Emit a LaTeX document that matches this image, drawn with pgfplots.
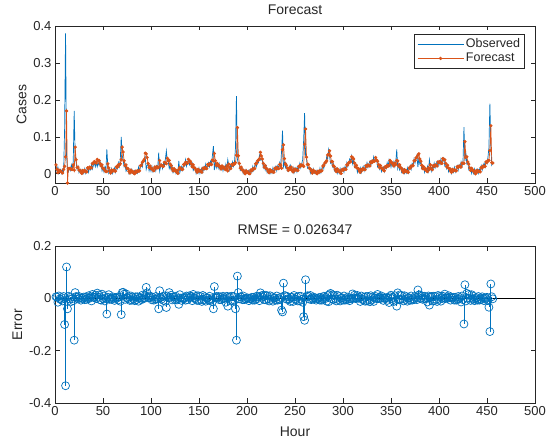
\documentclass[border=0pt]{standalone}
\usepackage{fontspec}
\setmainfont{Liberation Sans}
\usepackage{pgfplots}
\usepackage{pgfplotstable}
\pgfplotsset{compat=1.18}

\definecolor{mblue}{rgb}{0,0.447,0.741}
\definecolor{morange}{rgb}{0.85,0.325,0.098}
\definecolor{axgray}{rgb}{0.15,0.15,0.15}

% hourly observed (o) and forecast (f) values, hour = row index + 1
\pgfplotstableread[row sep=\\]{
o f \\
0.018 0.024 \\ 0.007 0.012 \\ 0.018 0.003 \\ 0.001 0.010 \\ 0.008 0.006 \\ 0.012 0.007 \\
0.001 0.004 \\ 0.012 0.002 \\ 0.005 0.012 \\ 0.120 0.020 \\ 0.380 0.046 \\ 0.050 0.170 \\
0.015 -0.025 \\ 0.006 0.014 \\ 0.016 0.014 \\ 0.009 0.014 \\ 0.024 0.012 \\ 0.013 0.012 \\
0.033 0.024 \\ 0.170 0.010 \\ 0.050 0.072 \\ 0.031 0.038 \\ 0.012 0.017 \\ 0.020 0.018 \\
0.003 0.010 \\ 0.009 0.010 \\ 0.012 0.005 \\ 0.001 0.001 \\ 0.009 0.009 \\ 0.001 0.006 \\
0.014 0.009 \\ 0.001 0.006 \\ 0.009 0.005 \\ 0.016 0.016 \\ 0.004 0.014 \\ 0.018 0.018 \\
0.011 0.016 \\ 0.026 0.016 \\ 0.013 0.028 \\ 0.023 0.028 \\ 0.030 0.033 \\ 0.019 0.031 \\
0.030 0.029 \\ 0.019 0.039 \\ 0.030 0.035 \\ 0.023 0.036 \\ 0.033 0.028 \\ 0.028 0.021 \\
0.008 0.024 \\ 0.016 0.015 \\ 0.005 0.014 \\ 0.018 0.008 \\ 0.007 0.006 \\ 0.066 0.006 \\
0.023 0.027 \\ 0.002 0.016 \\ 0.011 0.007 \\ 0.001 0.002 \\ 0.014 0.010 \\ 0.001 0.007 \\
0.009 0.010 \\ 0.016 0.008 \\ 0.004 0.007 \\ 0.019 0.019 \\ 0.013 0.018 \\ 0.030 0.024 \\
0.019 0.024 \\ 0.038 0.027 \\ 0.100 0.038 \\ 0.050 0.072 \\ 0.036 0.059 \\ 0.019 0.035 \\
0.026 0.022 \\ 0.007 0.024 \\ 0.012 0.015 \\ 0.015 0.014 \\ 0.001 0.007 \\ 0.010 0.002 \\
0.001 0.010 \\ 0.012 0.005 \\ 0.001 0.006 \\ 0.004 0.002 \\ 0.009 0.000 \\ 0.001 0.007 \\
0.009 0.004 \\ 0.002 0.008 \\ 0.018 0.007 \\ 0.007 0.008 \\ 0.019 0.022 \\ 0.028 0.023 \\
0.019 0.031 \\ 0.036 0.034 \\ 0.037 0.039 \\ 0.045 0.056 \\ 0.012 0.054 \\ 0.023 0.044 \\
0.026 0.028 \\ 0.008 0.017 \\ 0.018 0.021 \\ 0.007 0.014 \\ 0.020 0.014 \\ 0.006 0.010 \\
0.015 0.008 \\ 0.021 0.018 \\ 0.008 0.015 \\ 0.022 0.019 \\ 0.017 0.016 \\ 0.057 0.017 \\
0.007 0.036 \\ 0.019 0.022 \\ 0.026 0.023 \\ 0.014 0.021 \\ 0.028 0.020 \\ 0.022 0.031 \\
0.040 0.029 \\ 0.062 0.027 \\ 0.033 0.042 \\ 0.033 0.035 \\ 0.014 0.036 \\ 0.022 0.026 \\
0.010 0.022 \\ 0.020 0.014 \\ 0.003 0.008 \\ 0.009 0.014 \\ 0.013 0.008 \\ 0.001 0.009 \\
0.010 0.004 \\ 0.002 0.001 \\ 0.035 0.012 \\ 0.003 0.017 \\ 0.013 0.014 \\ 0.020 0.012 \\
0.010 0.012 \\ 0.026 0.025 \\ 0.021 0.025 \\ 0.038 0.031 \\ 0.021 0.030 \\ 0.033 0.028 \\
0.036 0.039 \\ 0.024 0.034 \\ 0.031 0.034 \\ 0.019 0.027 \\ 0.028 0.019 \\ 0.009 0.024 \\
0.014 0.016 \\ 0.017 0.015 \\ 0.001 0.009 \\ 0.012 0.004 \\ 0.002 0.012 \\ 0.015 0.007 \\
0.001 0.009 \\ 0.010 0.006 \\ 0.016 0.004 \\ 0.004 0.015 \\ 0.018 0.013 \\ 0.011 0.017 \\
0.026 0.015 \\ 0.013 0.014 \\ 0.023 0.025 \\ 0.030 0.023 \\ 0.019 0.027 \\ 0.034 0.026 \\
0.027 0.025 \\ 0.050 0.037 \\ 0.075 0.035 \\ 0.010 0.055 \\ 0.033 0.035 \\ 0.016 0.023 \\
0.026 0.028 \\ 0.015 0.022 \\ 0.027 0.022 \\ 0.011 0.017 \\ 0.018 0.013 \\ 0.022 0.021 \\
0.008 0.016 \\ 0.019 0.018 \\ 0.011 0.013 \\ 0.026 0.011 \\ 0.013 0.021 \\ 0.038 0.008 \\
0.023 0.026 \\ 0.010 0.016 \\ 0.024 0.014 \\ 0.017 0.025 \\ 0.032 0.023 \\ 0.020 0.027 \\
0.033 0.026 \\ 0.070 0.030 \\ 0.210 0.050 \\ 0.040 0.125 \\ 0.027 0.049 \\ 0.030 0.028 \\
0.009 0.015 \\ 0.013 0.018 \\ 0.015 0.010 \\ 0.001 0.010 \\ 0.009 0.004 \\ 0.001 0.000 \\
0.011 0.008 \\ 0.001 0.003 \\ 0.004 0.005 \\ 0.010 0.001 \\ 0.001 0.000 \\ 0.011 0.010 \\
0.004 0.008 \\ 0.020 0.013 \\ 0.009 0.013 \\ 0.021 0.014 \\ 0.030 0.027 \\ 0.020 0.028 \\
0.036 0.035 \\ 0.031 0.037 \\ 0.050 0.041 \\ 0.037 0.058 \\ 0.038 0.048 \\ 0.036 0.040 \\
0.016 0.028 \\ 0.023 0.018 \\ 0.010 0.022 \\ 0.020 0.014 \\ 0.003 0.013 \\ 0.009 0.007 \\
0.013 0.003 \\ 0.001 0.011 \\ 0.010 0.006 \\ 0.002 0.008 \\ 0.016 0.005 \\ 0.003 0.004 \\
0.013 0.015 \\ 0.020 0.013 \\ 0.008 0.017 \\ 0.022 0.015 \\ 0.015 0.014 \\ 0.030 0.025 \\
0.019 0.023 \\ 0.060 0.015 \\ 0.117 0.065 \\ 0.020 0.078 \\ 0.031 0.041 \\ 0.017 0.027 \\
0.026 0.023 \\ 0.008 0.015 \\ 0.014 0.009 \\ 0.018 0.016 \\ 0.024 0.012 \\ 0.015 0.018 \\
0.005 0.009 \\ 0.017 0.005 \\ 0.002 0.013 \\ 0.011 0.009 \\ 0.017 0.012 \\ 0.005 0.010 \\
0.019 0.009 \\ 0.012 0.020 \\ 0.028 0.019 \\ 0.016 0.024 \\ 0.027 0.023 \\ 0.038 0.023 \\
0.090 0.020 \\ 0.164 0.080 \\ 0.050 0.121 \\ 0.040 0.045 \\ 0.015 0.025 \\ 0.017 0.025 \\
0.018 0.015 \\ 0.002 0.013 \\ 0.012 0.007 \\ 0.001 0.002 \\ 0.013 0.010 \\ 0.001 0.005 \\
0.005 0.006 \\ 0.009 0.002 \\ 0.001 0.000 \\ 0.008 0.007 \\ 0.001 0.004 \\ 0.015 0.008 \\
0.003 0.007 \\ 0.015 0.008 \\ 0.024 0.021 \\ 0.014 0.022 \\ 0.031 0.029 \\ 0.027 0.031 \\
0.046 0.035 \\ 0.040 0.051 \\ 0.065 0.052 \\ 0.048 0.062 \\ 0.029 0.048 \\ 0.034 0.033 \\
0.019 0.033 \\ 0.027 0.022 \\ 0.008 0.019 \\ 0.013 0.011 \\ 0.016 0.006 \\ 0.001 0.013 \\
0.011 0.007 \\ 0.001 0.008 \\ 0.014 0.004 \\ 0.001 0.001 \\ 0.009 0.011 \\ 0.016 0.009 \\
0.004 0.013 \\ 0.019 0.012 \\ 0.013 0.012 \\ 0.030 0.024 \\ 0.019 0.024 \\ 0.031 0.030 \\
0.040 0.031 \\ 0.034 0.033 \\ 0.048 0.046 \\ 0.027 0.044 \\ 0.038 0.040 \\ 0.017 0.029 \\
0.020 0.019 \\ 0.021 0.023 \\ 0.004 0.015 \\ 0.014 0.014 \\ 0.004 0.008 \\ 0.016 0.004 \\
0.003 0.012 \\ 0.013 0.010 \\ 0.020 0.014 \\ 0.008 0.012 \\ 0.022 0.011 \\ 0.015 0.022 \\
0.030 0.020 \\ 0.017 0.024 \\ 0.027 0.022 \\ 0.034 0.021 \\ 0.022 0.032 \\ 0.036 0.030 \\
0.030 0.035 \\ 0.046 0.034 \\ 0.033 0.034 \\ 0.037 0.044 \\ 0.038 0.037 \\ 0.019 0.034 \\
0.026 0.025 \\ 0.013 0.017 \\ 0.023 0.022 \\ 0.006 0.015 \\ 0.013 0.015 \\ 0.018 0.010 \\
0.006 0.008 \\ 0.020 0.019 \\ 0.014 0.017 \\ 0.030 0.022 \\ 0.020 0.021 \\ 0.038 0.022 \\
0.030 0.036 \\ 0.018 0.030 \\ 0.031 0.030 \\ 0.021 0.025 \\ 0.033 0.021 \\ 0.019 0.029 \\
0.033 0.025 \\ 0.066 0.036 \\ 0.014 0.035 \\ 0.024 0.021 \\ 0.011 0.024 \\ 0.021 0.016 \\
0.004 0.015 \\ 0.010 0.008 \\ 0.013 0.003 \\ 0.001 0.011 \\ 0.010 0.006 \\ 0.002 0.008 \\
0.016 0.005 \\ 0.003 0.004 \\ 0.014 0.016 \\ 0.022 0.015 \\ 0.012 0.021 \\ 0.028 0.021 \\
0.023 0.022 \\ 0.040 0.035 \\ 0.029 0.036 \\ 0.041 0.043 \\ 0.050 0.045 \\ 0.018 0.050 \\
0.041 0.054 \\ 0.027 0.040 \\ 0.034 0.034 \\ 0.014 0.023 \\ 0.018 0.014 \\ 0.020 0.019 \\
0.004 0.012 \\ 0.015 0.013 \\ 0.006 0.008 \\ 0.020 0.006 \\ 0.007 0.016 \\ 0.038 0.012 \\
0.020 0.024 \\ 0.007 0.014 \\ 0.021 0.011 \\ 0.014 0.022 \\ 0.029 0.020 \\ 0.016 0.024 \\
0.026 0.022 \\ 0.033 0.021 \\ 0.021 0.032 \\ 0.034 0.030 \\ 0.025 0.033 \\ 0.040 0.029 \\
0.027 0.028 \\ 0.033 0.041 \\ 0.042 0.039 \\ 0.022 0.038 \\ 0.028 0.028 \\ 0.014 0.019 \\
0.023 0.023 \\ 0.005 0.015 \\ 0.011 0.014 \\ 0.015 0.008 \\ 0.001 0.004 \\ 0.012 0.012 \\
0.004 0.008 \\ 0.018 0.011 \\ 0.005 0.009 \\ 0.015 0.008 \\ 0.022 0.019 \\ 0.010 0.017 \\
0.024 0.021 \\ 0.017 0.019 \\ 0.032 0.018 \\ 0.020 0.029 \\ 0.033 0.028 \\ 0.126 0.028 \\
0.035 0.087 \\ 0.055 0.045 \\ 0.027 0.046 \\ 0.032 0.032 \\ 0.011 0.026 \\ 0.015 0.016 \\
0.017 0.009 \\ 0.001 0.015 \\ 0.011 0.009 \\ 0.001 0.009 \\ 0.013 0.004 \\ 0.001 0.000 \\
0.006 0.009 \\ 0.012 0.005 \\ 0.001 0.008 \\ 0.013 0.006 \\ 0.006 0.005 \\ 0.022 0.017 \\
0.010 0.016 \\ 0.021 0.021 \\ 0.029 0.020 \\ 0.018 0.020 \\ 0.033 0.032 \\ 0.027 0.031 \\
0.045 0.036 \\ 0.070 0.036 \\ 0.190 0.063 \\ 0.075 0.130 \\ 0.024 0.030 \\ 0.031 0.029 \\
}\data

\pgfplotsset{
  mstyle/.style={
    width=480pt, height=157pt, scale only axis,
    xmin=0, xmax=500, xtick={0,50,...,500},
    axis line style={axgray, line width=0.6pt},
    tick style={axgray, line width=0.6pt},
    major tick length=4.5pt, tick align=inside,
    ticklabel style={font=\fontsize{13}{15}\selectfont, text=axgray},
    label style={font=\fontsize{14}{16}\selectfont, text=axgray},
    title style={font=\fontsize{14}{16}\selectfont, text=axgray, yshift=1.5pt},
    /pgf/number format/assume math mode=true,
    scaled y ticks=false,
  },
}

\begin{document}
\begin{tikzpicture}[x=1pt,y=1pt]
\useasboundingbox (0,0) rectangle (549,444);

\begin{axis}[mstyle, at={(55pt,261pt)}, anchor=south west,
  ymin=-0.025, ymax=0.4, ytick={0,0.1,0.2,0.3,0.4},
  ylabel={Cases}, title={Forecast},
  legend cell align=left,
  legend style={at={(0.979,0.949)}, anchor=north east, draw=axgray,
    line width=0.6pt, fill=white, font=\fontsize{12.5}{14}\selectfont,
    text=axgray, inner sep=2.5pt, row sep=0pt},
  legend image code/.code={\draw[mark repeat=2, mark phase=2, #1]
    plot coordinates {(0pt,0pt) (23pt,0pt) (46pt,0pt)};},
]
\addplot[mblue, line width=0.7pt, no markers]
  table[x expr=\coordindex+1, y=o] {\data};
\addlegendentry{Observed}
\addplot[morange, line width=0.7pt, mark=*, mark size=1.3pt]
  table[x expr=\coordindex+1, y=f] {\data};
\addlegendentry{Forecast}
\end{axis}

\begin{axis}[mstyle, at={(55pt,41pt)}, anchor=south west,
  ymin=-0.4, ymax=0.2, ytick={-0.4,-0.2,0,0.2},
  yticklabels={-0.4,-0.2,0,0.2},
  ylabel={Error}, xlabel={Hour}, title={RMSE = 0.026347},
  xlabel style={yshift=-4pt},
]
\addplot[black, line width=0.6pt] coordinates {(0,0) (500,0)};
\addplot[mblue, line width=0.7pt, ycomb, mark=o, mark size=4pt,
  mark options={line width=0.7pt}]
  table[x expr=\coordindex+1, y expr=\thisrow{f}-\thisrow{o}] {\data};
\end{axis}
\end{tikzpicture}
\end{document}
